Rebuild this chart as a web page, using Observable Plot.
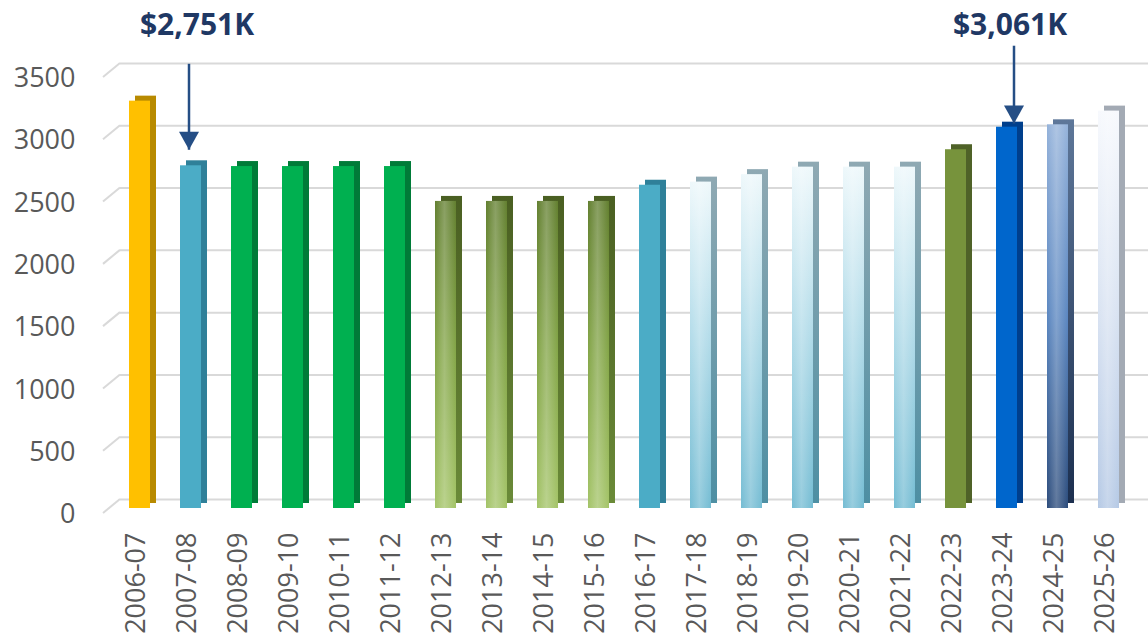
<!DOCTYPE html>
<html>
<head>
<meta charset="utf-8">
<script src="https://cdn.jsdelivr.net/npm/d3@7"></script>
<script src="https://cdn.jsdelivr.net/npm/@observablehq/plot@0.6"></script>
<style>
  html, body { margin: 0; padding: 0; background: #ffffff; }
  svg { display: block; }
</style>
</head>
<body>
<div id="chart"></div>
<script>
// ---------- DATA ----------
const categories = ["2006-07","2007-08","2008-09","2009-10","2010-11","2011-12","2012-13","2013-14","2014-15","2015-16",
                    "2016-17","2017-18","2018-19","2019-20","2020-21","2021-22","2022-23","2023-24","2024-25","2025-26"];
const values = [3270, 2751, 2745, 2745, 2745, 2745, 2465, 2465, 2465, 2465,
                2595, 2620, 2680, 2740, 2740, 2740, 2880, 3061, 3080, 3190];
const yTicks = [0, 500, 1000, 1500, 2000, 2500, 3000, 3500];
const annotationCategories = ["2007-08", "2023-24"];
const annotationLabels = ["$2,751K", "$3,061K"];
const arrowFrom = [3570, 3715];
const arrowTo = [2880, 3090];

// ---------- STYLE ----------
const frontFill = ["#FFC000","#4BACC6","#00B050","#00B050","#00B050","#00B050",
                   "url(#olive)","url(#olive)","url(#olive)","url(#olive)",
                   "#4BACC6","url(#ice)","url(#ice)","url(#ice)","url(#ice)","url(#ice)",
                   "#77933C","#0066CC","url(#steel)","url(#frost)"];
const sideFill = ["#B88A00","#2F8099","#007B38","#007B38","#007B38","#007B38",
                  "url(#oliveSide)","url(#oliveSide)","url(#oliveSide)","url(#oliveSide)",
                  "#2F8099","url(#iceSide)","url(#iceSide)","url(#iceSide)","url(#iceSide)","url(#iceSide)",
                  "#4F6228","#003F8C","url(#steelSide)","#A3AAB4"];
const glossy = [false,false,false,false,false,false,true,true,true,true,
                false,true,true,true,true,true,false,false,true,true];
const arrowDx = [-2, 7];
const labelDx = [6, 3];
const arrowColor = "#254E85";
const labelColor = "#1F3864";

const rows = categories.map((c, i) => ({category: c, value: values[i], front: frontFill[i], side: sideFill[i], gloss: glossy[i]}));
const annotations = annotationCategories.map((c, i) => ({category: c, label: annotationLabels[i], from: arrowFrom[i], to: arrowTo[i]}));

// gradient definitions
const defs = () => {
  const d = d3.create("svg:defs");
  function lin(id, stops, horizontal) {
    const g = d.append("linearGradient").attr("id", id)
      .attr("x1", 0).attr("y1", 0).attr("x2", horizontal ? 1 : 0).attr("y2", horizontal ? 0 : 1);
    stops.forEach(([o, c, op]) => g.append("stop").attr("offset", o).attr("stop-color", c).attr("stop-opacity", op == null ? 1 : op));
  }
  lin("olive", [[0, "#627F2F"], [0.5, "#84A648"], [1, "#A4C468"]]);
  lin("oliveSide", [[0, "#4A5F22"], [1, "#6A8A38"]]);
  lin("ice", [[0, "#EEF8FB"], [0.45, "#B5DDEA"], [1, "#74BCD3"]]);
  lin("iceSide", [[0, "#8FA9B3"], [1, "#4E8FA3"]]);
  lin("steel", [[0, "#94B2DA"], [0.5, "#5A86C0"], [1, "#2C4C7C"]]);
  lin("steelSide", [[0, "#5E7799"], [1, "#1C2F4F"]]);
  lin("frost", [[0, "#F7F9FD"], [0.5, "#D9E3F2"], [1, "#B5C9E5"]]);
  lin("gloss", [[0, "#ffffff", 0], [0.45, "#ffffff", 0.25], [1, "#ffffff", 0]], true);
  return d.node();
};

// left perspective segments of the back-wall gridlines
const gridDiagonals = (index, scales, values, dims) => {
  const g = d3.create("svg:g").attr("stroke", "#D9D9D9").attr("stroke-width", 2);
  const x0 = dims.marginLeft - 7.5, x1 = dims.marginLeft + 9.5;
  yTicks.forEach(v => {
    const y = scales.y(v);
    g.append("line").attr("x1", x0).attr("y1", y + 5).attr("x2", x1).attr("y2", y - 9);
  });
  return g.node();
};

const downTriangle = {
  draw(ctx, size) {
    const r = Math.sqrt(size / Math.PI);
    const w = r, h = 1.8 * r;
    ctx.moveTo(-w, -h); ctx.lineTo(w, -h); ctx.lineTo(0, 0); ctx.closePath();
  }
};

const chart = Plot.plot({
  width: 1148,
  height: 639,
  marginTop: 72,
  marginBottom: 131,
  marginLeft: 110.5,
  marginRight: 11.5,
  style: {fontFamily: "'Open Sans', sans-serif", fontSize: "27px", color: "#595959", background: "#ffffff"},
  x: {domain: categories, paddingInner: 0.59, paddingOuter: 0.295, label: null},
  y: {domain: [0, 3500], label: null},
  color: {type: "identity"},
  marks: [
    defs,
    Plot.ruleY(yTicks, {dy: -9, stroke: "#D9D9D9", strokeWidth: 2, insetLeft: 9.5, insetRight: -12}),
    gridDiagonals,
    Plot.barY(rows, {x: "category", y: "value", fill: "side", dx: 6, dy: -5}),
    Plot.barY(rows, {x: "category", y: "value", fill: "front"}),
    Plot.barY(rows.filter(d => d.gloss), {x: "category", y: "value", fill: "url(#gloss)"}),
    ...annotations.map((a, i) => Plot.link([a], {x1: "category", x2: "category", y1: "from", y2: "to", dx: arrowDx[i], stroke: arrowColor, strokeWidth: 2.5})),
    ...annotations.map((a, i) => Plot.dot([a], {x: "category", y: "to", dx: arrowDx[i], symbol: downTriangle, r: 10, fill: arrowColor, stroke: "none"})),
    ...annotations.map((a, i) => Plot.text([a], {x: "category", text: "label", frameAnchor: "top", dy: -47, dx: labelDx[i], lineAnchor: "middle", fontWeight: "bold", fontSize: 30, fill: labelColor, letterSpacing: 1.8})),
    Plot.axisY({ticks: yTicks, tickFormat: d => String(d), tickSize: 0, tickPadding: 35.5, dy: 6, label: null, fontSize: 27}),
    Plot.axisX({tickRotate: -90, tickSize: 0, tickPadding: 24, dx: -4, label: null, fontSize: 27})
  ]
});
document.getElementById("chart").appendChild(chart);
</script>
</body>
</html>
